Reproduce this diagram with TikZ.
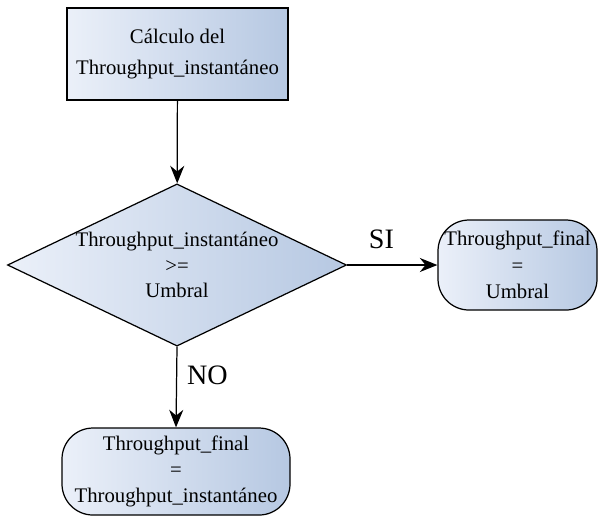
\documentclass[tikz,border=0pt]{standalone}
\usepackage{fontspec}
\setmainfont{Liberation Serif}
\usetikzlibrary{shapes.geometric,arrows.meta}
\definecolor{cajaclaro}{RGB}{235,240,249}
\definecolor{cajaoscuro}{RGB}{182,200,226}
\tikzset{
    caja/.style={draw,line width=0.7pt,left color=cajaclaro,right color=cajaoscuro,align=center,font=\fontsize{11.8}{15}\selectfont,inner sep=0pt},
    proceso/.style={caja,rectangle,minimum width=4.42cm,minimum height=1.84cm,font=\fontsize{11.8}{17.6}\selectfont},
    decision/.style={caja,diamond,aspect=2.09,minimum width=6.68cm,minimum height=3.2cm,font=\fontsize{11.8}{14.4}\selectfont},
    terminal/.style={caja,rectangle,rounded corners=0.62cm},
    flecha/.style={line width=0.7pt,-{Stealth[length=10pt,width=8pt]}},
    rotulo/.style={font=\fontsize{16}{18}\selectfont}
}
\begin{document}
\begin{tikzpicture}
    \useasboundingbox (0,0) rectangle (11.96,-10.38);
    %% Nodos
    \node[proceso] (calculo) at (3.55,-1.08) {Cálculo del\\Throughput\_instantáneo};
    \node[decision] (umbral) at (3.54,-5.3) {Throughput\_instantáneo\\>=\\Umbral};
    \node[terminal,minimum width=3.18cm,minimum height=1.8cm] (finalsi) at (10.35,-5.3) {Throughput\_final\\=\\Umbral};
    \node[terminal,minimum width=4.56cm,minimum height=1.74cm] (finalno) at (3.52,-9.43) {Throughput\_final\\=\\Throughput\_instantáneo};
    %% Flechas
    \draw[flecha] (calculo) -- (umbral);
    \draw[flecha] (umbral.east) -- (finalsi.west) node[rotulo,pos=0.38,anchor=south,yshift=0.2cm] {SI};
    \draw[flecha] (umbral.south) -- (finalno.north) node[rotulo,pos=0.36,anchor=west,xshift=0.08cm] {NO};
\end{tikzpicture}
\end{document}
